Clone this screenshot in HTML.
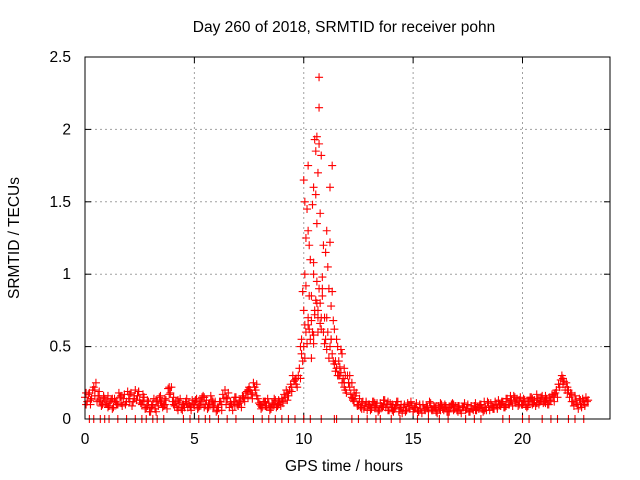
<!DOCTYPE html>
<html><head><meta charset="utf-8"><style>
body{margin:0;background:#fff;}
svg{display:block;font-family:"Liberation Sans",sans-serif;font-size:15.5px;}
</style></head><body>
<svg id="chart" width="640" height="480" xmlns="http://www.w3.org/2000/svg">
<text x="344" y="32" text-anchor="middle">Day 260 of 2018, SRMTID for receiver pohn</text>
<text x="344" y="471" text-anchor="middle">GPS time / hours</text>
<text transform="translate(19,238) rotate(-90)" text-anchor="middle">SRMTID / TECUs</text>
<g id="grid"></g>
<g id="ticks"></g>
<g id="marks"></g>
<rect x="85" y="57" width="525" height="362" fill="none" stroke="#000" stroke-width="1"/>
</svg>
<script>
const xTicks=[0,5,10,15,20];
const yTicks=[0,0.5,1,1.5,2,2.5];
const yTickLabels=["0","0.5","1","1.5","2","2.5"];
const seriesA=[.15,.12,.18,.14,.22,.25,.16,.12,.10,.14,
.11,.09,.13,.08,.12,.10,.15,.09,.17,.12,
.14,.18,.12,.20,.16,.13,.10,.15,.08,.12,
.05,.10,.07,.12,.15,.11,.09,.13,.21,.18,
.12,.09,.08,.11,.07,.10,.12,.08,.09,.13,
.10,.14,.08,.12,.16,.10,.07,.11,.13,.09,
.05,.08,.12,.17,.20,.14,.08,.10,.12,.15,
.09,.13,.16,.12,.19,.22,.18,.25,.20,.14,
.10,.08,.12,.09,.11,.07,.10,.13,.09,.12,
.14,.17,.20,.16,.24,.30,.27,.22,.35,.45,
.5,.6,.7,.55,.6,.75,.8,.9,.7,.6,
.55,.6,.5,.45,.38,.35,.30,.32,.28,.20,
.30,.22,.15,.12,.18,.10,.08,.12,.09,.06,
.10,.07,.12,.09,.05,.11,.08,.13,.10,.06,
.08,.05,.09,.12,.07,.04,.10,.06,.09,.12,
.05,.08,.06,.10,.04,.07,.09,.05,.11,.06,
.08,.04,.07,.10,.06,.09,.05,.08,.11,.07,
.06,.09,.04,.08,.06,.10,.05,.07,.09,.06,
.07,.10,.05,.08,.12,.06,.09,.07,.10,.13,
.09,.12,.08,.14,.10,.13,.16,.11,.09,.15,
.10,.13,.08,.12,.15,.11,.09,.14,.12,.16,
.12,.14,.10,.13,.16,.18,.15,.22,.30,.26,
.25,.20,.18,.12,.16,.10,.14,.08,.12,.15,.13];
const seriesC=[.10,.17,.13,.20,.16,.12,.19,.09,.15,.11,
.16,.12,.07,.14,.10,.18,.11,.14,.10,.19,
.12,.09,.16,.13,.19,.11,.17,.07,.13,.05,
.09,.14,.05,.09,.12,.08,.14,.07,.17,.22,
.15,.12,.06,.14,.10,.08,.14,.11,.06,.10,
.13,.07,.11,.15,.08,.13,.10,.16,.08,.12,
.08,.12,.06,.14,.10,.18,.12,.06,.15,.10,
.12,.08,.14,.18,.15,.20,.14,.22,.16,.11,
.07,.12,.09,.14,.06,.11,.14,.08,.13,.09,
.11,.15,.13,.20,.19,.26,.24,.30,.28,.40,
.42,.52,.62,.68,.58,.82,.7,.66,.85,.52,
.48,.42,.55,.40,.33,.30,.36,.25,.22,.18,
.25,.17,.13,.16,.09,.14,.11,.07,.12,.10,
.06,.12,.08,.11,.07,.09,.13,.08,.06,.11,
.10,.07,.12,.05,.10,.08,.06,.11,.07,.09,
.08,.11,.05,.07,.10,.06,.08,.12,.07,.09,
.05,.09,.11,.07,.10,.05,.08,.10,.06,.09,
.09,.06,.08,.11,.07,.05,.09,.06,.11,.08,
.10,.07,.12,.06,.09,.11,.07,.12,.08,.10,
.12,.08,.14,.10,.16,.09,.12,.14,.13,.10,
.14,.09,.12,.15,.10,.13,.17,.10,.15,.11,
.16,.10,.13,.17,.12,.20,.24,.27,.24,.20,
.18,.15,.12,.09,.13,.07,.11,.14,.10,.12];
const seriesB=[.18,.10,.20,.13,.16,.08,.14,.11,.16,.10,.17,.14,.19,.12,.09,
.08,.13,.16,.10,.22,.10,.13,.06,.11,.08,.12,.09,.15,.08,.12,
.06,.10,.15,.11,.09,.11,.15,.20,.17,.24,.09,.12,.08,.11,.10,
.12,.18,.22,.28,.50,.65,.85,1.0,.75,.9,.7,.55,.40,.30,.25,
.25,.14,.10,.07,.11,.08,.11,.06,.09,.12,.06,.10,.08,.05,.09,
.07,.05,.10,.08,.06,.09,.06,.08,.05,.10,.05,.08,.07,.09,.06,
.09,.06,.11,.08,.07,.11,.09,.13,.15,.10,.12,.09,.14,.11,.13,
.11,.15,.17,.24,.28,.22,.17,.11,.13,.09];
const peakTimes=[10.7,10.7,10.5,10.6,10.7,10.55,10.8,10.2,11.3,10.0,10.45,11.2,10.05,10.4,10.15,10.75,10.2,10.1,10.9,11.0,10.25,10.45,11.1,10.05,10.6,11.15,9.95,10.35,10.75,11.25,10.0,10.5,10.95,11.35,10.2,11.4,10.65,9.9,11.5,10.45,11.7,11.75,10.35,11.6,11.85,11.9,12.1,12.2,12.3,10.6,10.55,10.65,10.3,10.85,10.1,11.05,11.2,11.3,11.55,10.8];
const peakValues=[2.36,2.15,1.93,1.95,1.90,1.85,1.82,1.75,1.75,1.65,1.6,1.6,1.5,1.48,1.45,1.42,1.3,1.25,1.2,1.15,1.2,1.08,1.05,1.0,0.95,0.9,0.88,0.85,0.8,0.78,0.75,0.72,0.7,0.68,0.65,0.62,0.6,0.55,0.55,0.52,0.48,0.45,0.42,0.4,0.35,0.30,0.3,0.25,0.2,1.35,1.55,1.7,1.1,0.98,0.92,1.3,1.22,0.88,0.5,0.62];
const zeroTimes=[0.2,0.4,0.7,0.9,1.1,1.5,1.9,2.3,2.6,2.8,3.1,3.3,3.6,4.5,4.8,5.2,5.5,5.7,6.1,6.5,6.9,7.7,8.1,8.4,8.7,9.0,9.3,9.6,10.0,10.3,10.8,11.4,11.5,12.2,12.5,12.9,13.3,13.5,14.0,14.4,15.2,15.7,16.2,16.6,17.4,17.8,18.1,19.1,19.4,20.0,20.3,20.9,21.3,21.6,22.1,22.4,22.8];

const X0=85,X1=610,Y0=419,Y1=57,XMAX=24,YMAX=2.5;
const xs=t=>X0+(X1-X0)*t/XMAX;
const ys=v=>Y0-(Y0-Y1)*v/YMAX;
const NS="http://www.w3.org/2000/svg";
function mk(tag,attrs,parent){const e=document.createElementNS(NS,tag);for(const k in attrs)e.setAttribute(k,attrs[k]);parent.appendChild(e);return e;}
const grid=document.getElementById('grid'),ticks=document.getElementById('ticks'),marks=document.getElementById('marks'),svg=document.getElementById('chart');
xTicks.forEach(t=>{
  const x=xs(t);
  if(t>0){const g=mk('line',{x1:x,x2:x,y1:Y0,y2:Y1,stroke:'#a0a0a0','stroke-dasharray':'2,3'},grid);
  
  }
  mk('line',{x1:x,x2:x,y1:Y0,y2:Y0-6,stroke:'#000'},ticks);
  mk('line',{x1:x,x2:x,y1:Y1,y2:Y1+6,stroke:'#000'},ticks);
  const l=mk('text',{x:x,y:444,'text-anchor':'middle'},svg);l.textContent=t;
  
  
});
yTicks.forEach((v,i)=>{
  const y=ys(v);
  if(v>0&&v<YMAX){const g=mk('line',{x1:X0,x2:X1,y1:y,y2:y,stroke:'#a0a0a0','stroke-dasharray':'2,3'},grid);
  
  }
  mk('line',{x1:X0,x2:X0+6,y1:y,y2:y,stroke:'#000'},ticks);
  mk('line',{x1:X1,x2:X1-6,y1:y,y2:y,stroke:'#000'},ticks);
  const l=mk('text',{x:71,y:y+5,'text-anchor':'end'},svg);l.textContent=yTickLabels[i];
  
  
});
function plus(t,v,col){
  const x=xs(t),y=ys(v);
  const p=mk('path',{d:`M${x-4},${y}h8M${x},${y-4}v8`,stroke:col,'stroke-width':1.1,fill:'none'},marks);
  
  
}
seriesA.forEach((v,i)=>plus(i*0.1,v,'#ff0000'));
seriesC.forEach((v,i)=>plus(0.05+i*0.1,v,'#ff0000'));
seriesB.forEach((v,i)=>plus(0.05+i*0.2,v,'#ff0000'));
peakTimes.forEach((t,i)=>plus(t,peakValues[i],'#ff0000'));
zeroTimes.forEach(t=>plus(t,0,'#ff0000'));
</script>
</body></html>
